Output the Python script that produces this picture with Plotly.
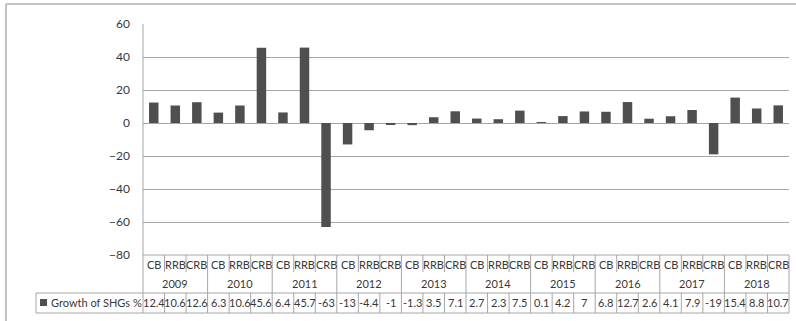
import plotly.graph_objects as go

years = ["2009", "2010", "2011", "2012", "2013", "2014", "2015", "2016", "2017", "2018"]
bank_types = ["CB", "RRB", "CRB"]
growth = [12.4, 10.6, 12.6, 6.3, 10.6, 45.6, 6.4, 45.7, -63, -13, -4.4, -1,
          -1.3, 3.5, 7.1, 2.7, 2.3, 7.5, 0.1, 4.2, 7, 6.8, 12.7, 2.6,
          4.1, 7.9, -19, 15.4, 8.8, 10.7]
value_labels = ["12.4", "10.6", "12.6", "6.3", "10.6", "45.6", "6.4", "45.7", "-63", "-13", "-4.4", "-1",
                "-1.3", "3.5", "7.1", "2.7", "2.3", "7.5", "0.1", "4.2", "7", "6.8", "12.7", "2.6",
                "4.1", "7.9", "-19", "15.4", "8.8", "10.7"]
series_name = "Growth of SHGs %"
y_ticks = [-80, -60, -40, -20, 0, 20, 40, 60]

W, H = 796, 321
L, R, T, B = 143, 789, 24, 255
n = len(growth)
xs = list(range(n))

def py(p):
    return (B - p) / (B - T)

def pxp(p):
    # pixel -> paper x
    return (p - L) / (R - L)

def cat_edge(i):
    return i / n

line_col = "#a6a6a6"
text_col = "#383838"
font_fam = "Lato, 'Open Sans', sans-serif"

fig = go.Figure()
fig.add_trace(go.Bar(x=xs, y=growth, width=0.44,
                     marker=dict(color="#4f4f4f", line=dict(width=0)),
                     showlegend=False, hoverinfo="skip"))

shapes = []
def hline(x0, x1, y, col=line_col, w=1):
    shapes.append(dict(type="line", xref="paper", yref="paper", x0=x0, x1=x1, y0=y, y1=y,
                       line=dict(color=col, width=w)))
def vline(x, y0, y1, col=line_col, w=1):
    shapes.append(dict(type="line", xref="paper", yref="paper", x0=x, x1=x, y0=y0, y1=y1,
                       line=dict(color=col, width=w)))

# table
hline(0, 1, 0)
for i in range(n + 1):
    xb = cat_edge(i)
    if i % 3 == 0:
        vline(xb, 0, py(293))
    else:
        vline(xb, 0, py(272))
    vline(xb, py(293), py(313))
hline(pxp(36), 1, py(293))
hline(pxp(36), 1, py(313))
vline(pxp(36), py(293), py(313))
vline(0, 0, 1)
# legend key
shapes.append(dict(type="rect", xref="paper", yref="paper", x0=pxp(40), x1=pxp(47),
                   y0=py(306), y1=py(299), fillcolor="#4f4f4f", line=dict(width=0)))
# outer border
hline(pxp(6), pxp(W + 5), py(4), "#b0b0b0", 1.5)
vline(pxp(6), py(4), py(H + 5), "#b0b0b0", 1.5)

fnt = dict(size=11, color=text_col, family=font_fam)
ann = []
for i in range(n):
    cx = (i + 0.5) / n
    ann.append(dict(x=cx, y=py(264.5), xref="paper", yref="paper", text=bank_types[i % 3], showarrow=False,
                    xanchor="center", yanchor="middle", font=fnt))
    ann.append(dict(x=cx, y=py(302.5), xref="paper", yref="paper", text=value_labels[i], showarrow=False,
                    xanchor="center", yanchor="middle", font=fnt))
for j, yr in enumerate(years):
    ann.append(dict(x=(3 * j + 1.5) / n, y=py(283), xref="paper", yref="paper", text=yr, showarrow=False,
                    xanchor="center", yanchor="middle", font=fnt))
ann.append(dict(x=pxp(49), y=py(302.5), xref="paper", yref="paper", text=series_name, showarrow=False,
                xanchor="left", yanchor="middle", font=fnt))

fig.update_layout(
    width=W, height=H, margin=dict(l=L, r=W - R, t=T, b=H - B),
    paper_bgcolor="white", plot_bgcolor="white",
    shapes=shapes, annotations=ann,
    xaxis=dict(range=[-0.5, n - 0.5], showticklabels=False, showgrid=False, zeroline=False,
               showline=False, fixedrange=True),
    yaxis=dict(range=[-80, 60], tickvals=y_ticks, showgrid=True, gridcolor=line_col, gridwidth=1,
               zeroline=True, zerolinecolor=line_col, zerolinewidth=1, showline=False,
               ticklabelstandoff=12,
               tickfont=dict(size=12, color=text_col, family=font_fam)),
)
fig.write_html("out.html")
